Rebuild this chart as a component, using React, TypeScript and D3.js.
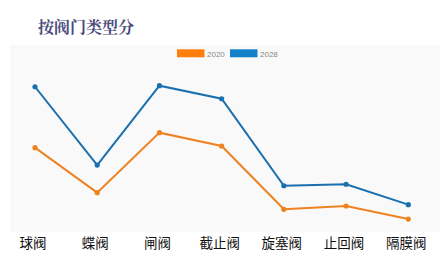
import React from "react";
import * as d3 from "d3";

const categories = ["球阀", "蝶阀", "闸阀", "截止阀", "旋塞阀", "止回阀", "隔膜阀"];
const series2020 = [54.9, 24.9, 64.9, 56.0, 13.8, 16.0, 7.3];
const series2028 = [95.5, 43.3, 96.2, 87.5, 29.5, 30.5, 16.9];
const seriesNames = ["2020", "2028"];
const lineColors = ["#ee8220", "#1a6fae"];
const legendColors = ["#ff7f0e", "#1380c8"];

export default function App() {
  const W = 446, H = 268;
  const x = d3.scalePoint<string>().domain(categories).range([35, 408.3]);
  const y = d3.scaleLinear().domain([0, 100]).range([230, 80]);
  const line = d3.line<number>().x((_, i) => x(categories[i])!).y((d) => y(d));
  const data = [series2020, series2028];
  return (
    <svg width={W} height={H} style={{ position: "absolute", left: 0, top: 0, background: "#fff" }}>
      <rect x={0} y={0} width={W} height={H} fill="#ffffff" />
      <text x={38} y={33} fontFamily="'Noto Serif CJK SC', 'Noto Sans CJK SC', serif" fontWeight="bold" fontSize={16} fill="#4b4b7c">按阀门类型分</text>
      <rect x={10} y={45} width={430} height={187} fill="#f9f9f9" />
      {seriesNames.map((n, i) => (
        <g key={n}>
          <rect x={177 + i * 53} y={49.3} width={27.5} height={8} fill={legendColors[i]} />
          <text x={207 + i * 53} y={56.5} fontFamily="'Liberation Sans', Arial, sans-serif" fontSize={8} fill="#888">{n}</text>
        </g>
      ))}
      {data.map((s, si) => (
        <g key={si}>
          <path d={line(s) || ""} fill="none" stroke={lineColors[si]} strokeWidth={2} />
          {s.map((v, i) => (
            <circle key={i} cx={x(categories[i])} cy={y(v)} r={2.6} fill={lineColors[si]} />
          ))}
        </g>
      ))}
      {categories.map((c) => (
        <text key={c} x={x(c)! - 2} y={248} textAnchor="middle" fontFamily="'Noto Sans CJK SC', sans-serif" fontSize={13.5} fill="#111">{c}</text>
      ))}
    </svg>
  );
}
